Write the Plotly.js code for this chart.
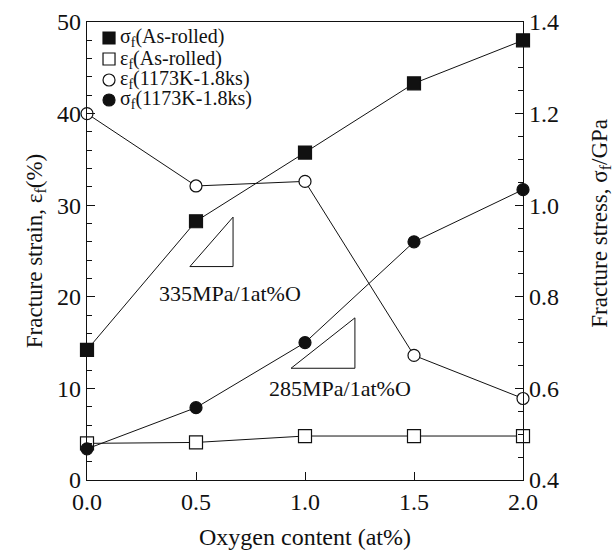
<!DOCTYPE html>
<html>
<head>
<meta charset="utf-8">
<script src="https://cdn.plot.ly/plotly-3.0.1.min.js"></script>
<style>html,body{margin:0;padding:0;background:#fff;}#chart{width:614px;height:554px;}</style>
</head>
<body>
<div id="chart"></div>
<script>
// Oxygen content (at%)
var oxygen = [0.0, 0.5, 1.0, 1.5, 2.0];
// Fracture stress, As-rolled (GPa) - right axis
var stressAsRolled = [0.684, 0.965, 1.115, 1.266, 1.36];
// Fracture strain, As-rolled (%) - left axis
var strainAsRolled = [4.0, 4.1, 4.8, 4.8, 4.8];
// Fracture strain, 1173K-1.8ks (%) - left axis
var strain1173 = [40.0, 32.1, 32.6, 13.6, 8.9];
// Fracture stress, 1173K-1.8ks (GPa) - right axis
var stress1173 = [0.468, 0.558, 0.70, 0.92, 1.034];

var names = ['σ<sub>f</sub>(As-rolled)', 'ε<sub>f</sub>(As-rolled)', 'ε<sub>f</sub>(1173K-1.8ks)', 'σ<sub>f</sub>(1173K-1.8ks)'];
var slopeLabels = ['335MPa/1at%O', '285MPa/1at%O'];
var xTitle = 'Oxygen content (at%)';
var yTitle = 'Fracture strain, ε<sub>f</sub>(%)';
var y2Title = 'Fracture stress, σ<sub>f</sub>/GPa';

var ink = '#111';
var lineStyle = {color: ink, width: 1};
var series = [
  {y: stressAsRolled, axis: 'y2', symbol: 'square', fill: ink, size: 13},
  {y: strainAsRolled, axis: 'y', symbol: 'square', fill: '#fff', size: 13},
  {y: strain1173, axis: 'y', symbol: 'circle', fill: '#fff', size: 12},
  {y: stress1173, axis: 'y2', symbol: 'circle', fill: ink, size: 12}
];
var traces = series.map(function (s, i) {
  return {x: oxygen, y: s.y, yaxis: s.axis, name: names[i], mode: 'lines+markers', line: lineStyle,
          showlegend: false, cliponaxis: false,
          marker: {symbol: s.symbol, size: s.size, color: s.fill, line: {color: ink, width: 1.2}}};
});

var fontFam = '"Liberation Serif", "Times New Roman", serif';

// hand-built legend (symbols as pixel-sized shapes, labels as annotations)
var legX = 0.0505, legTextX = 0.0734;
var legY = [0.9651, 0.9192, 0.8734, 0.8297];
var legShapes = series.map(function (s, i) {
  return {type: s.symbol === 'square' ? 'rect' : 'circle', xref: 'paper', yref: 'paper',
          xsizemode: 'pixel', ysizemode: 'pixel', xanchor: legX, yanchor: legY[i],
          x0: -6, x1: 6, y0: -6, y1: 6, fillcolor: s.fill, line: {color: ink, width: 1.2}};
});
var legAnn = names.map(function (n, i) {
  return {xref: 'paper', yref: 'paper', x: legTextX, y: legY[i], xanchor: 'left', yanchor: 'middle',
          text: n, showarrow: false, borderpad: 0, font: {family: fontFam, size: 20, color: ink}};
});

var layout = {
  width: 614, height: 554,
  margin: {l: 87, r: 91, t: 22, b: 74},
  paper_bgcolor: '#fff', plot_bgcolor: '#fff',
  font: {family: fontFam, color: ink, size: 22},
  showlegend: false,
  xaxis: {range: [0, 2.0], dtick: 0.5, tick0: 0, tickformat: '.1f', ticks: 'inside', ticklen: 8, tickcolor: ink,
          showline: true, linecolor: ink, linewidth: 1.2, mirror: true, showgrid: false, zeroline: false,
          tickfont: {size: 24},
          title: {text: xTitle, font: {size: 24}, standoff: 14}},
  yaxis: {range: [0, 50], dtick: 10, ticks: 'inside', ticklen: 8, tickcolor: ink, showline: true, linecolor: ink, linewidth: 1.2,
          showgrid: false, zeroline: false, tickfont: {size: 24},
          minor: {dtick: 2, ticks: 'inside', ticklen: 5, tickcolor: ink},
          title: {text: yTitle, font: {size: 23}, standoff: 8}},
  yaxis2: {range: [0.4, 1.4], dtick: 0.2, tick0: 0.4, tickformat: '.1f', overlaying: 'y', side: 'right', anchor: 'x',
           ticks: 'inside', ticklen: 8, tickcolor: ink, showline: true, linecolor: ink, linewidth: 1.2,
           showgrid: false, zeroline: false, tickfont: {size: 24},
           minor: {dtick: 0.05, ticks: 'inside', ticklen: 5, tickcolor: ink}},
  shapes: [
    {type: 'path', xref: 'x', yref: 'y', path: 'M 0.472 23.3 L 0.67 23.3 L 0.67 28.7 Z',
     line: {color: ink, width: 1}, fillcolor: 'rgba(0,0,0,0)'},
    {type: 'path', xref: 'x', yref: 'y', path: 'M 0.936 12.2 L 1.229 12.2 L 1.229 17.7 Z',
     line: {color: ink, width: 1}, fillcolor: 'rgba(0,0,0,0)'}
  ].concat(legShapes),
  annotations: [
    {xref: 'x', yref: 'y', x: 0.655, y: 20.4, text: slopeLabels[0], showarrow: false,
     font: {family: fontFam, size: 22, color: ink}},
    {xref: 'x', yref: 'y', x: 1.16, y: 10.0, text: slopeLabels[1], showarrow: false,
     font: {family: fontFam, size: 22, color: ink}},
    {xref: 'paper', yref: 'paper', x: 1.177, y: 0.56, textangle: -90, text: y2Title, showarrow: false,
     xanchor: 'center', yanchor: 'middle', font: {family: fontFam, size: 23, color: ink}}
  ].concat(legAnn)
};

Plotly.newPlot('chart', traces, layout, {displayModeBar: false, staticPlot: true});
</script>
</body>
</html>
